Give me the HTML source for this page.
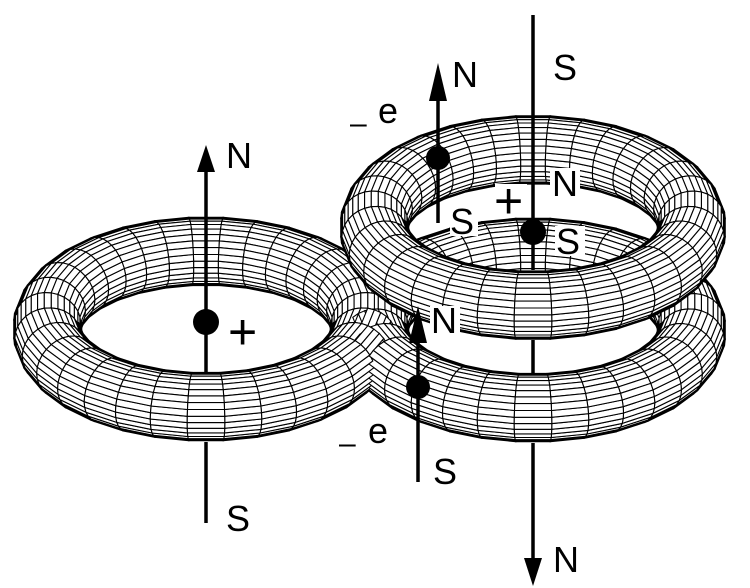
<!DOCTYPE html>
<html><head><meta charset="utf-8"><style>
html,body{margin:0;padding:0;background:#fff;width:750px;height:588px;overflow:hidden}
svg{display:block}
text{font-family:"Liberation Sans",sans-serif;font-size:36px;fill:#000}
</style></head><body>
<svg id="s" width="750" height="588" viewBox="0 0 750 588" xmlns="http://www.w3.org/2000/svg">
<g id="mesh"></g>
<g id="over" stroke="#000" stroke-width="3.5" fill="none">
  <line x1="206" y1="165" x2="206" y2="373"/>
  <line x1="206" y1="442" x2="206" y2="523"/>
  <line x1="533" y1="15" x2="533" y2="270"/>
  <line x1="533" y1="340" x2="533" y2="375"/>
  <line x1="533" y1="443" x2="533" y2="565"/>
  <line x1="438" y1="95" x2="438" y2="223"/>
  <line x1="418" y1="338" x2="418" y2="482"/>
</g>
<g fill="#000">
  <polygon points="206,145 197,172 215,172"/>
  <polygon points="533,586 524,558 542,558"/>
  <polygon points="438,63 429,101 447,101"/>
  <polygon points="418,306 409,343 427,343"/>
  <circle cx="206" cy="322" r="13"/>
  <circle cx="533" cy="232" r="13"/>
  <circle cx="438" cy="158" r="12"/>
  <circle cx="418" cy="387" r="12"/>
</g>
<g fill="#fff">
  <rect x="550" y="168" width="30" height="30"/>
  <rect x="555" y="226" width="30" height="30"/>
  <rect x="450" y="206" width="28" height="30"/>
  <rect x="430" y="306" width="30" height="28"/>
  <rect x="495" y="184" width="32" height="32"/>
</g>
<text x="226" y="168">N</text>
<text x="226" y="531">S</text>
<text x="228" y="349" style="font-size:50px">+</text>
<text x="553" y="80">S</text>
<text x="552" y="196">N</text>
<text x="556" y="254">S</text>
<text x="494" y="218" style="font-size:50px">+</text>
<text x="452" y="87">N</text>
<text x="450" y="234">S</text>
<text x="431" y="333">N</text>
<text x="433" y="484">S</text>
<text x="553" y="572">N</text>
<text x="378" y="123">e</text>
<text x="350" y="133" style="font-size:30px">–</text>
<text x="368" y="443">e</text>
<text x="339" y="453" style="font-size:30px">–</text>
</svg>
<script>
(function(){
var s=0.49,c=Math.sqrt(1-s*s),R=159,r=33,NU=32,NV=30;
var tori=[{x:206,y:329},{x:533,y:227.5},{x:533,y:330}];
var items=[];
function P(t,u,v){
  var rr=R+r*Math.cos(v);
  var Y=rr*Math.sin(u),Z=r*Math.sin(v);
  return [t.x+rr*Math.cos(u), t.y+Y*s-Z*c, Y*c+Z*s-(t.y/c)*s];
}
function face(u,v){return Math.cos(v)*Math.sin(u)*c+Math.sin(v)*s;}
var du=2*Math.PI/NU,dv=2*Math.PI/NV,off=Math.PI/2+du/2;
tori.forEach(function(t){
  var F=[];
  for(var i=0;i<NU;i++){F[i]=[];for(var j=0;j<NV;j++){F[i][j]=face(off+(i+0.5)*du,(j+0.5)*dv);}}
  for(var i=0;i<NU;i++)for(var j=0;j<NV;j++){
    if(F[i][j]<=0)continue;
    var u0=off+i*du,u1=u0+du,v0=j*dv,v1=v0+dv;
    var a=P(t,u0,v0),b=P(t,u1,v0),cc=P(t,u1,v1),d=P(t,u0,v1);
    var m=P(t,(u0+u1)/2,(v0+v1)/2);
    var str='<polygon points="'+a[0].toFixed(1)+','+a[1].toFixed(1)+' '+b[0].toFixed(1)+','+b[1].toFixed(1)+' '+cc[0].toFixed(1)+','+cc[1].toFixed(1)+' '+d[0].toFixed(1)+','+d[1].toFixed(1)+'" fill="#fff" stroke="#000" stroke-width="1.1"/>';
    var sil='';
    function L(p,q){sil+='<line x1="'+p[0].toFixed(1)+'" y1="'+p[1].toFixed(1)+'" x2="'+q[0].toFixed(1)+'" y2="'+q[1].toFixed(1)+'" stroke="#000" stroke-width="3.4" stroke-linecap="round"/>';}
    if(F[(i+1)%NU][j]<=0)L(b,cc);
    if(F[(i-1+NU)%NU][j]<=0)L(a,d);
    if(F[i][(j+1)%NV]<=0)L(d,cc);
    if(F[i][(j-1+NV)%NV]<=0)L(a,b);
    items.push({z:m[2],h:str+sil});
  }
});
items.sort(function(A,B){return A.z-B.z;});
document.getElementById('mesh').innerHTML=items.map(function(o){return o.h;}).join('');
})();
</script>
</body></html>
